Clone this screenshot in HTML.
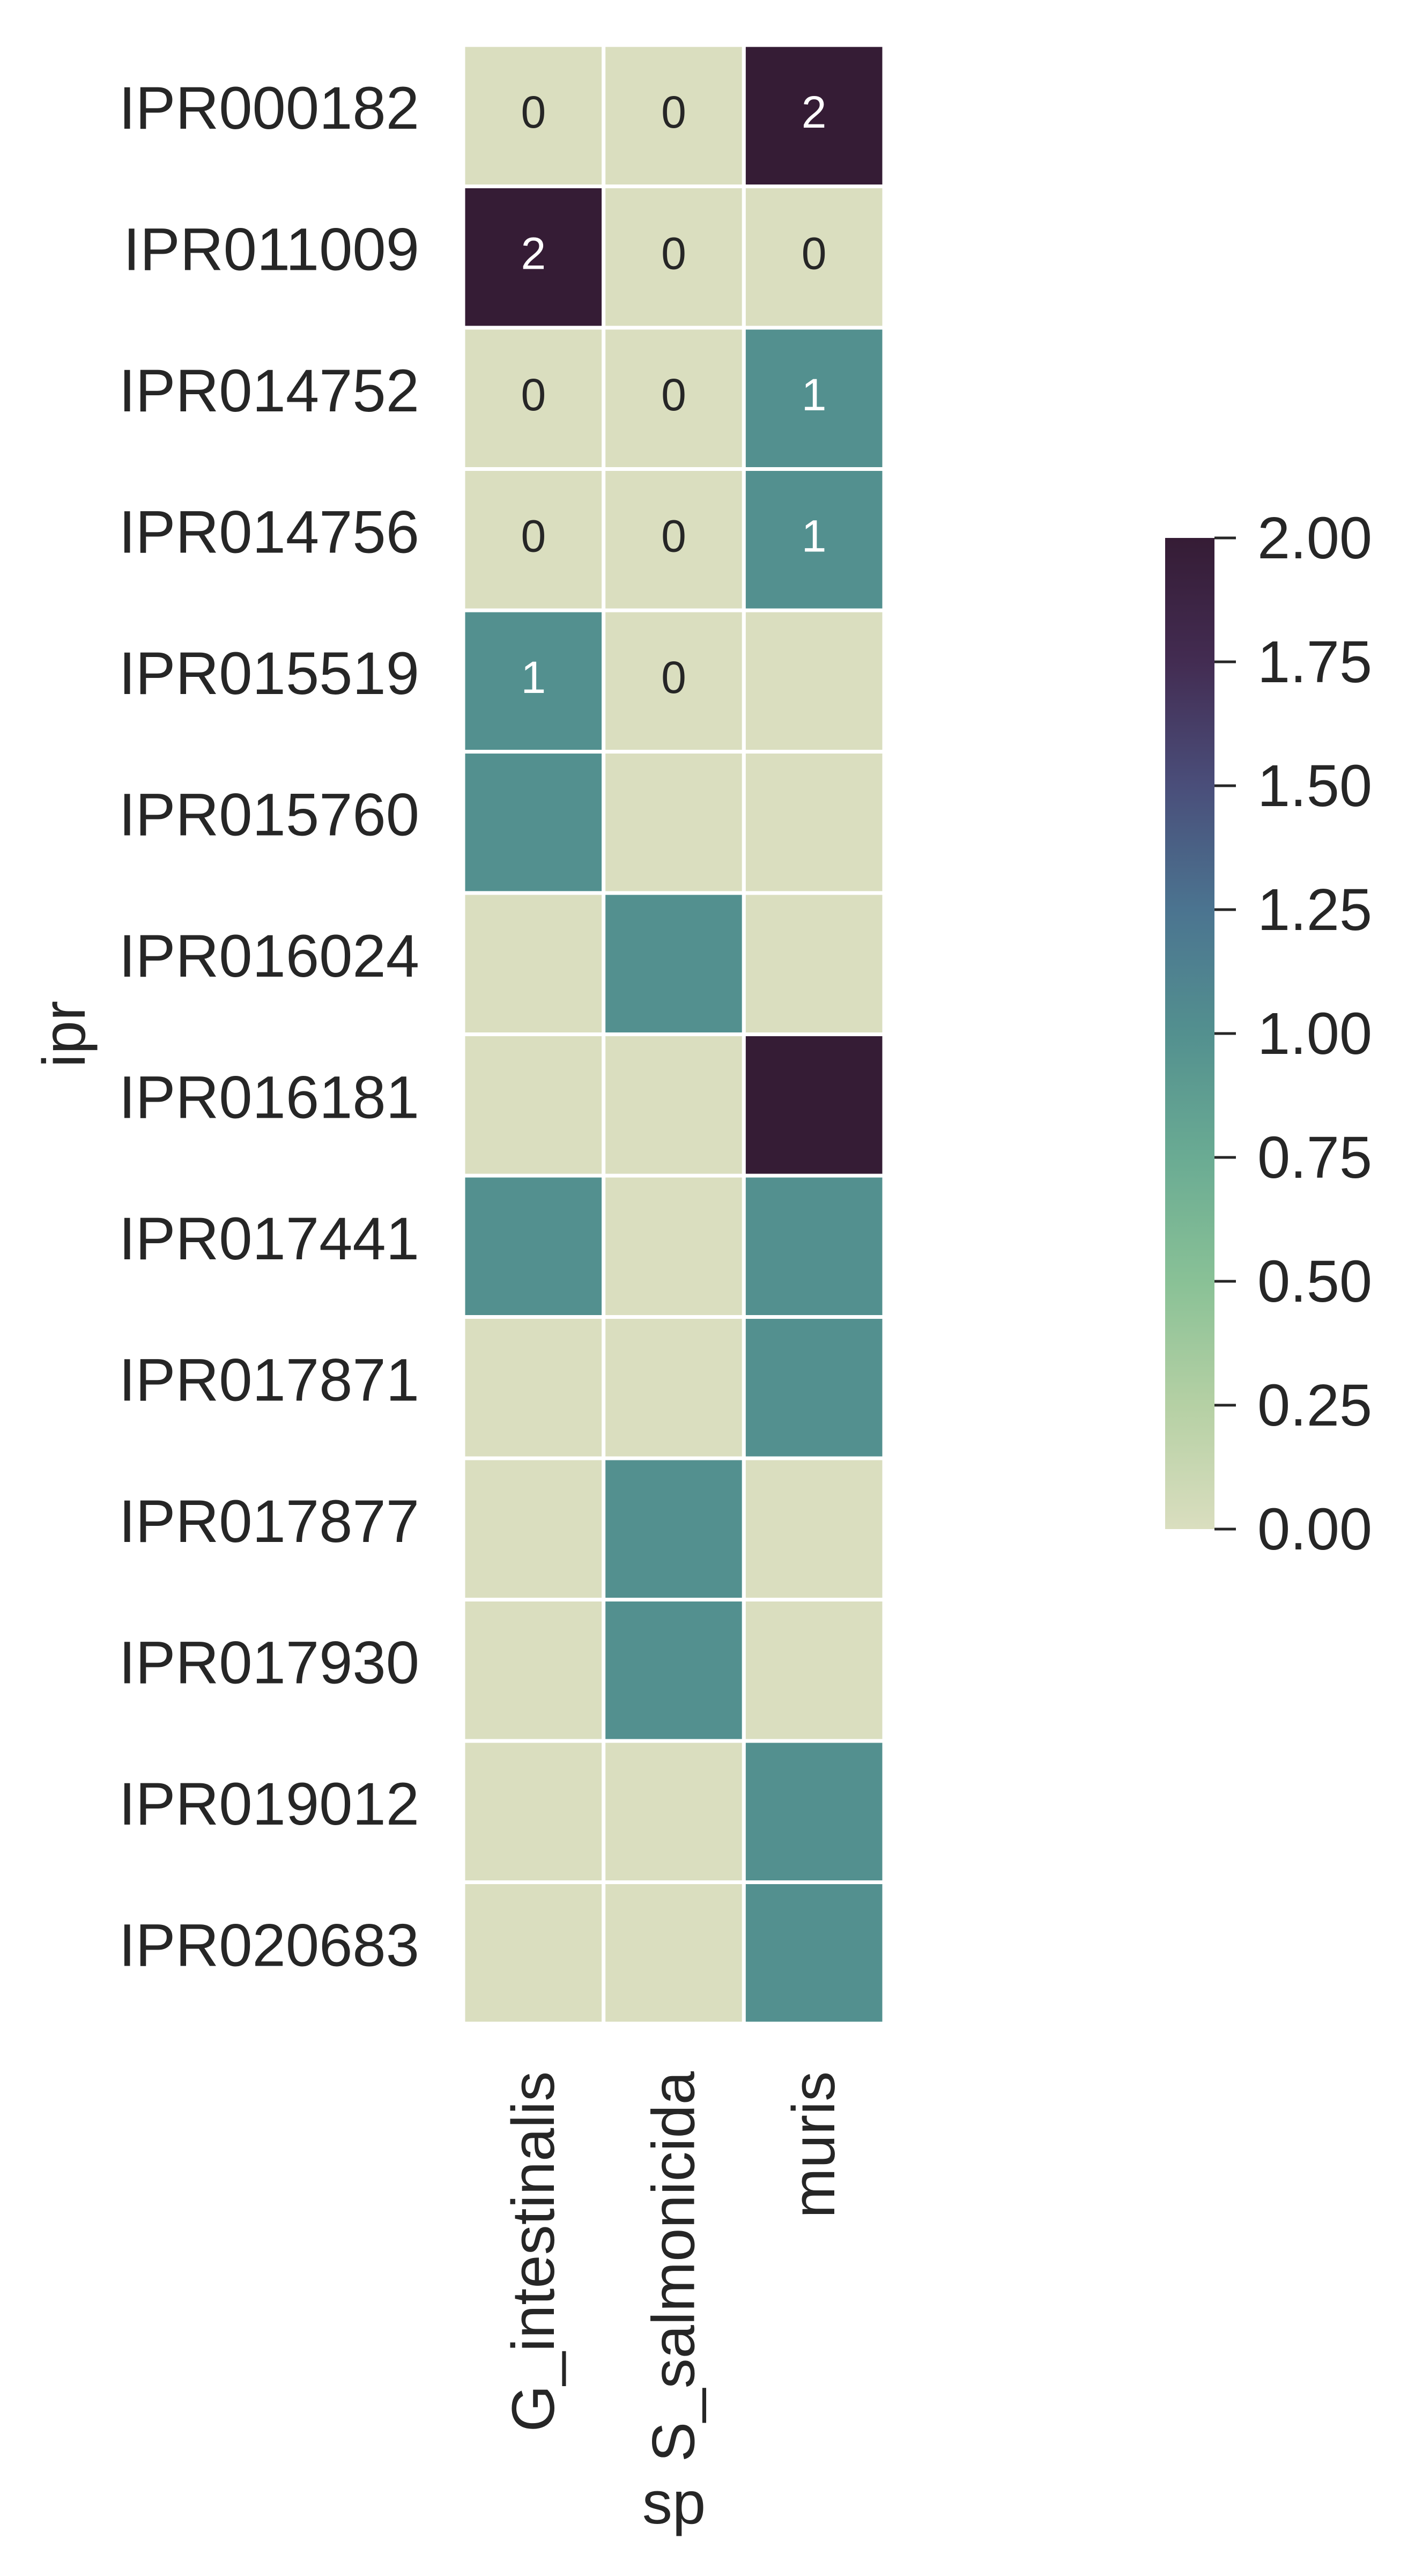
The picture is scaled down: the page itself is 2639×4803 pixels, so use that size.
<!DOCTYPE html>
<html><head><meta charset="utf-8"><style>
html,body{margin:0;padding:0;background:#fff;}
svg{display:block;font-family:"Liberation Sans",Arial,sans-serif;}
</style></head><body>
<svg id="chart" width="2639" height="4803" viewBox="0 0 2639 4803" xmlns="http://www.w3.org/2000/svg">
<defs>
<linearGradient id="cbgrad" x1="0" y1="1" x2="0" y2="0">
<stop offset="0" stop-color="#dadebf"/>
<stop offset="0.125" stop-color="#b5d0a4"/>
<stop offset="0.25" stop-color="#89c196"/>
<stop offset="0.375" stop-color="#6aab93"/>
<stop offset="0.5" stop-color="#53908f"/>
<stop offset="0.625" stop-color="#4b7490"/>
<stop offset="0.75" stop-color="#4a4e7a"/>
<stop offset="0.875" stop-color="#432c52"/>
<stop offset="1" stop-color="#351c35"/>
</linearGradient>
</defs>
<g id="cells"></g>
<g id="ylabels"></g>
<g id="xlabels"></g>
<text x="0" y="0" transform="translate(158,1928) rotate(-90)" text-anchor="middle" font-size="112" fill="#262626">ipr</text>
<text x="1257" y="4705" text-anchor="middle" font-size="112" fill="#262626">sp</text>
<rect x="2173" y="1003" width="92" height="1848" fill="url(#cbgrad)"/>
<g id="cbticks"></g>
</svg>
<script>
const rowLabels = ["IPR000182","IPR011009","IPR014752","IPR014756","IPR015519","IPR015760","IPR016024","IPR016181","IPR017441","IPR017871","IPR017877","IPR017930","IPR019012","IPR020683"];
const colLabels = ["G_intestinalis","S_salmonicida","muris"];
const col0 = [0,2,0,0,1,1,0,0,1,0,0,0,0,0];
const col1 = [0,0,0,0,0,0,1,0,0,0,1,1,0,0];
const col2 = [2,0,1,1,0,0,0,2,1,1,0,0,1,1];
const annotCount = 14;
const cbTicks = [0,0.25,0.5,0.75,1,1.25,1.5,1.75,2];

const NS = "http://www.w3.org/2000/svg";
const X0 = 864, X1 = 1649, Y0 = 84, Y1 = 3773;
const cw = (X1 - X0) / colLabels.length, rh = (Y1 - Y0) / rowLabels.length;
const xPos = i => X0 + i * cw;
const yPos = j => Y0 + j * rh;
const vmin = 0, vmax = 2, CB0 = 2851, CB1 = 1003;
const cbY = v => CB0 + (v - vmin) / (vmax - vmin) * (CB1 - CB0);
const palette = ["#dadebf","#b5d0a4","#89c196","#6aab93","#53908f","#4b7490","#4a4e7a","#432c52","#351c35"];
function color(v){
  const t = (v - vmin) / (vmax - vmin) * (palette.length - 1);
  const i = Math.min(palette.length - 2, Math.floor(t)), f = t - i;
  const a = palette[i], b = palette[i+1];
  const c = k => Math.round(parseInt(a.substr(k,2),16)*(1-f) + parseInt(b.substr(k,2),16)*f);
  return "rgb(" + c(1) + "," + c(3) + "," + c(5) + ")";
}
const cols = [col0, col1, col2];
const gCells = document.getElementById("cells");
let flat = 0;
rowLabels.forEach((r, j) => {
  cols.forEach((col, i) => {
    const v = col[j];
    const rect = document.createElementNS(NS, "rect");
    rect.setAttribute("x", xPos(i)); rect.setAttribute("y", yPos(j));
    rect.setAttribute("width", cw); rect.setAttribute("height", rh);
    rect.setAttribute("fill", color(v));
    rect.setAttribute("stroke", "#fff"); rect.setAttribute("stroke-width", "7");
    
    
    gCells.appendChild(rect);
    if (flat < annotCount) {
      const t = document.createElementNS(NS, "text");
      t.setAttribute("x", xPos(i) + cw/2); t.setAttribute("y", yPos(j) + rh/2 + 22);
      t.setAttribute("text-anchor", "middle"); t.setAttribute("font-size", "84");
      t.setAttribute("fill", v >= 1 ? "#ffffff" : "#262626");
      t.textContent = String(v);
      
      
      gCells.appendChild(t);
    }
    flat++;
  });
});
const gY = document.getElementById("ylabels");
rowLabels.forEach((r, j) => {
  const t = document.createElementNS(NS, "text");
  t.setAttribute("x", 782); t.setAttribute("y", yPos(j) + rh/2 + 24);
  t.setAttribute("text-anchor", "end"); t.setAttribute("font-size", "112"); t.setAttribute("fill", "#262626");
  t.textContent = r;
  
  
  gY.appendChild(t);
});
const gX = document.getElementById("xlabels");
colLabels.forEach((c, i) => {
  const t = document.createElementNS(NS, "text");
  const cx = xPos(i) + cw/2 + 38;
  t.setAttribute("transform", "translate(" + cx + ",3862) rotate(-90)");
  t.setAttribute("text-anchor", "end"); t.setAttribute("font-size", "112"); t.setAttribute("fill", "#262626");
  t.textContent = c;
  
  
  gX.appendChild(t);
});
const gCB = document.getElementById("cbticks");
cbTicks.forEach(v => {
  const y = cbY(v);
  const l = document.createElementNS(NS, "line");
  l.setAttribute("x1", 2265); l.setAttribute("x2", 2305); l.setAttribute("y1", y); l.setAttribute("y2", y);
  l.setAttribute("stroke", "#262626"); l.setAttribute("stroke-width", "5");
  
  
  gCB.appendChild(l);
  const t = document.createElementNS(NS, "text");
  t.setAttribute("x", 2345); t.setAttribute("y", y + 38);
  t.setAttribute("font-size", "110"); t.setAttribute("fill", "#262626");
  t.textContent = v.toFixed(2);
  
  
  gCB.appendChild(t);
});
</script>
</body></html>
